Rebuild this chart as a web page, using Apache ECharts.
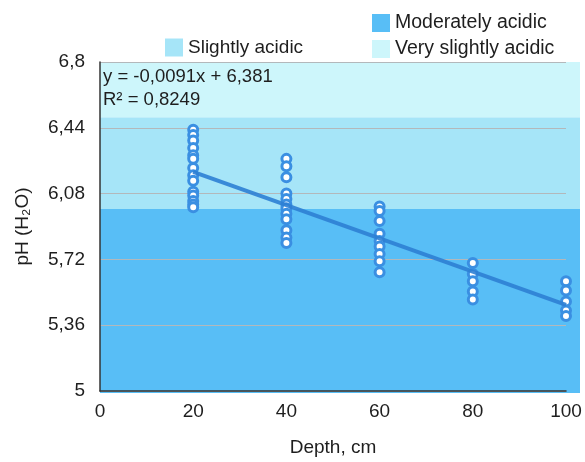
<!DOCTYPE html>
<html>
<head>
<meta charset="utf-8">
<script src="https://cdn.jsdelivr.net/npm/echarts@6/dist/echarts.min.js"></script>
<style>
  html, body { margin: 0; padding: 0; background: #fff; }
  #chart { width: 585px; height: 462px; }
</style>
</head>
<body>
<div id="chart"></div>
<script>
// pH readings per depth
const depth20 = [6.43, 6.40, 6.37, 6.33, 6.29, 6.27, 6.22, 6.18, 6.15, 6.09, 6.07, 6.04, 6.02, 6.005];
const depth40 = [6.27, 6.23, 6.17, 6.08, 6.05, 6.02, 6.00, 5.97, 5.94, 5.88, 5.84, 5.81];
const depth60 = [6.01, 5.985, 5.93, 5.86, 5.82, 5.79, 5.75, 5.71, 5.65];
const depth80 = [5.70, 5.64, 5.60, 5.545, 5.50];
const depth100 = [5.60, 5.55, 5.49, 5.44, 5.41];
const depths = [20, 40, 60, 80, 100];

// trend line end points  (y = -0,0091x + 6,381)
const trendLine = [[20, 6.199], [100, 5.471]];

// acidity bands [name, from, to, colour]
const bands = [
  ['Moderately acidic', 5.0, 6.0, '#58bef6'],
  ['Slightly acidic', 6.0, 6.5, '#a6e5f8'],
  ['Very slightly acidic', 6.5, 6.8, '#cdf6fb']
];

const points = [];
[depth20, depth40, depth60, depth80, depth100].forEach((arr, i) => {
  arr.forEach(v => points.push([depths[i], v]));
});

const fmt = v => String(+v.toFixed(2)).replace('.', ',');
const font = 'Helvetica, "Liberation Sans", Arial, sans-serif';
const txt = '#1e1e1e';

const chart = echarts.init(document.getElementById('chart'));

// bands live in their own grid (a bit wider than the axis) on the bottom layer
const bandSeries = bands.map(b => ({
  name: b[0],
  type: 'scatter',
  xAxisIndex: 1, yAxisIndex: 1,
  zlevel: 0,
  data: [],
  itemStyle: { color: b[3], opacity: 1 },
  markArea: {
    silent: true,
    itemStyle: { color: b[3], opacity: 1 },
    data: [[{ coord: [0, b[1]] }, { coord: [103, b[2]] }]]
  }
}));

chart.setOption({
  animation: false,
  textStyle: { fontFamily: font },
  legend: [
    {
      left: 160, top: 33, zlevel: 1,
      icon: 'rect', itemWidth: 18, itemHeight: 18, itemGap: 10,
      textStyle: { fontSize: 19, color: txt },
      data: ['Slightly acidic']
    },
    {
      left: 367, top: 8, orient: 'vertical', itemGap: 6, zlevel: 1,
      icon: 'rect', itemWidth: 18, itemHeight: 18,
      textStyle: { fontSize: 19.5, color: txt },
      data: ['Moderately acidic', 'Very slightly acidic']
    }
  ],
  grid: [
    { left: 100, right: 19, top: 62, bottom: 69 },
    { left: 100, right: 5, top: 62, bottom: 69 }
  ],
  xAxis: [
    {
      type: 'value', min: 0, max: 100, interval: 20, zlevel: 1,
      name: 'Depth, cm', nameLocation: 'middle', nameGap: 47,
      nameTextStyle: { fontSize: 19, color: txt },
      axisLine: { lineStyle: { color: '#333', width: 1.5 } },
      axisTick: { show: false },
      axisLabel: { fontSize: 19, color: txt, margin: 11 },
      splitLine: { show: false }
    },
    { gridIndex: 1, type: 'value', min: 0, max: 103, show: false }
  ],
  yAxis: [
    {
      type: 'value', min: 5, max: 6.8, interval: 0.36, zlevel: 1,
      name: 'pH (H₂O)', nameLocation: 'middle', nameGap: 68,
      nameTextStyle: { fontSize: 19, color: txt },
      axisLine: { show: true, lineStyle: { color: '#333', width: 1.5 } },
      axisTick: { show: false },
      axisLabel: { fontSize: 19, color: txt, margin: 15, formatter: fmt },
      splitLine: { lineStyle: { color: '#b3b8bb', width: 1 } }
    },
    { gridIndex: 1, type: 'value', min: 5, max: 6.8, show: false }
  ],
  graphic: [
    {
      type: 'text', left: 103, top: 65, zlevel: 1,
      style: { text: 'y = -0,0091x + 6,381\nR² = 0,8249', fontSize: 18.5, lineHeight: 23, fill: txt, fontFamily: font }
    }
  ],
  series: bandSeries.concat([
    {
      name: 'pH',
      type: 'scatter',
      data: points,
      symbolSize: 9,
      zlevel: 1, z: 3,
      itemStyle: { color: '#fff', borderColor: '#3a8fe2', borderWidth: 3, opacity: 1 }
    },
    {
      name: 'trend',
      type: 'line',
      data: trendLine,
      symbol: 'none',
      zlevel: 1, z: 4,
      lineStyle: { color: '#2e7fd4', width: 4, opacity: 0.9 }
    }
  ])
});
</script>
</body>
</html>
